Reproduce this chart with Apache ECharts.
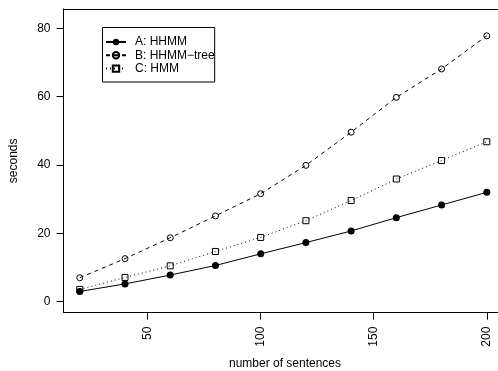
<!DOCTYPE html>
<html>
<head>
<meta charset="utf-8">
<script src="https://cdn.jsdelivr.net/npm/echarts@6/dist/echarts.min.js"></script>
<style>
html,body{margin:0;padding:0;background:#fff;}
#chart{width:498px;height:371px;}
</style>
</head>
<body>
<div id="chart"></div>
<script>
var sentences = [20, 40, 60, 80, 100, 120, 140, 160, 180, 200];
var seriesNames = ['A: HHMM', 'B: HHMM\u2212tree', 'C: HMM'];
var valuesA = [3.0, 5.2, 7.8, 10.6, 14.0, 17.3, 20.7, 24.6, 28.3, 32.0];
var valuesB = [7.0, 12.6, 18.7, 25.1, 31.6, 39.9, 49.6, 59.8, 68.1, 77.8];
var valuesC = [3.6, 7.1, 10.5, 14.7, 18.8, 23.7, 29.6, 35.9, 41.3, 46.8];
var xTicks = [50, 100, 150, 200];
var yTicks = [0, 20, 40, 60, 80];

function pairs(vals) {
  return sentences.map(function (s, i) { return [s, vals[i]]; });
}

var font = 'Liberation Sans, Arial, Helvetica, sans-serif';
var chart = echarts.init(document.getElementById('chart'), null, {renderer: 'canvas'});
chart.setOption({
  animation: false,
  backgroundColor: '#fff',
  textStyle: {fontFamily: font},
  grid: {
    left: 63.5, top: 9, right: 0, height: 303.7,
    show: false,
    containLabel: false, outerBoundsMode: 'none'
  },
  legend: {
    orient: 'vertical',
    left: 102.5, top: 27.5,
    padding: [8.5, 0, 7.4, 2.5],
    borderColor: '#000', borderWidth: 1,
    itemWidth: 20, itemHeight: 8, itemGap: 1.3,
    textStyle: {fontFamily: font, fontSize: 12, color: '#000', padding: [0, 0, 0, 4], lineHeight: 8},
    data: seriesNames
  },
  xAxis: [{
    type: 'value', min: 12.8, max: 204.95, position: 'bottom',
    name: 'number of sentences', nameLocation: 'middle', nameGap: 45,
    nameTextStyle: {fontFamily: font, fontSize: 12, color: '#000', padding: [0, 0, 0, 8.5]},
    axisLine: {show: true, onZero: false, lineStyle: {color: '#000', width: 1}},
    axisTick: {show: true, inside: false, length: 7, customValues: xTicks, lineStyle: {color: '#000'}},
    axisLabel: {rotate: 90, margin: 14, customValues: xTicks, fontFamily: font, fontSize: 12, color: '#000'},
    splitLine: {show: false}
  }, {
    type: 'value', position: 'top', min: 12.8, max: 204.95,
    axisLine: {show: true, onZero: false, lineStyle: {color: '#000', width: 1}},
    axisTick: {show: false}, axisLabel: {show: false}, splitLine: {show: false}
  }],
  yAxis: {
    type: 'value', min: -3.22, max: 85.65, position: 'left',
    name: 'seconds', nameLocation: 'middle', nameGap: 44,
    nameTextStyle: {fontFamily: font, fontSize: 12, color: '#000'},
    axisLine: {show: true, onZero: false, lineStyle: {color: '#000', width: 1}},
    axisTick: {show: true, inside: false, length: 7, customValues: yTicks, lineStyle: {color: '#000'}},
    axisLabel: {margin: 13, customValues: yTicks, fontFamily: font, fontSize: 12, color: '#000'},
    splitLine: {show: false}
  },
  series: [
    {
      name: seriesNames[0], type: 'line', data: pairs(valuesA),
      symbol: 'circle', symbolSize: 7,
      lineStyle: {color: '#000', width: 1, type: 'solid'},
      itemStyle: {color: '#000', borderColor: '#000', borderWidth: 0}
    },
    {
      name: seriesNames[1], type: 'line', data: pairs(valuesB),
      symbol: 'circle', symbolSize: 6,
      lineStyle: {color: '#000', width: 1, type: [4, 4]},
      itemStyle: {color: 'rgba(0,0,0,0)', borderColor: '#000', borderWidth: 1}
    },
    {
      name: seriesNames[2], type: 'line', data: pairs(valuesC),
      symbol: 'rect', symbolSize: 6,
      lineStyle: {color: '#000', width: 1, type: [1, 3]},
      itemStyle: {color: 'rgba(0,0,0,0)', borderColor: '#000', borderWidth: 1}
    }
  ]
});
</script>
</body>
</html>
